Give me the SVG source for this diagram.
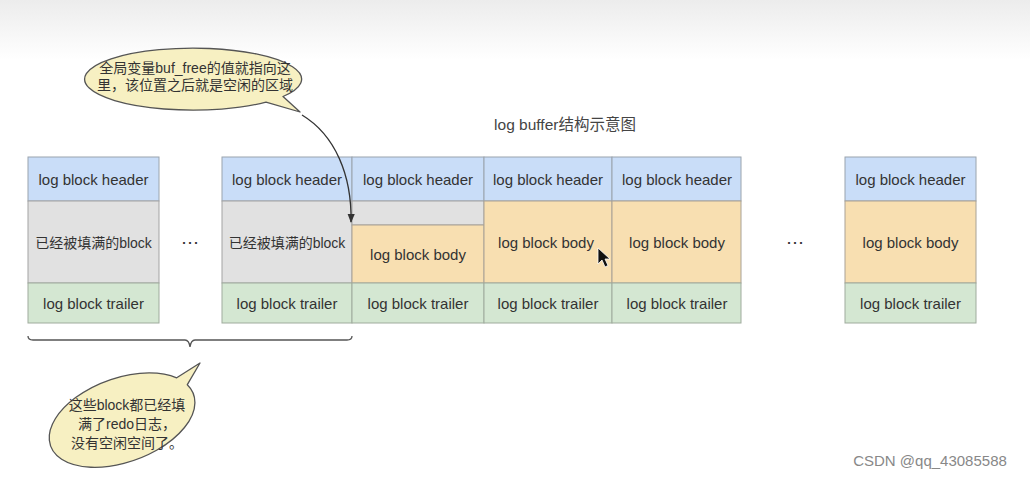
<svg xmlns="http://www.w3.org/2000/svg" width="1030" height="478" viewBox="0 0 1030 478">
  <defs>
    <linearGradient id="bg" x1="0" y1="0" x2="0" y2="1">
      <stop offset="0" stop-color="#ececec"/>
      <stop offset="1" stop-color="#ffffff"/>
    </linearGradient>
    <marker id="arr" viewBox="0 0 10 10" refX="9" refY="5" markerWidth="7" markerHeight="7" orient="auto">
      <path d="M0,1 L10,5 L0,9 z" fill="#333"/>
    </marker>
    <style>
      .hd { fill: #c9ddf8; stroke: #9aa4ae; stroke-width: 1; }
      .gy { fill: #e1e1e1; stroke: #a3a3a3; stroke-width: 1; }
      .bd { fill: #f8dfb1; stroke: #a9a295; stroke-width: 1; }
      .tr { fill: #d4e7d2; stroke: #9fab9d; stroke-width: 1; }
      .t { font-family: "Liberation Sans", "Noto Sans CJK SC", sans-serif; font-size: 15px; fill: #333; text-anchor: middle; }
      .g { font-family: "Liberation Sans", "Noto Sans CJK SC", sans-serif; font-size: 14px; fill: #333; text-anchor: middle; }
      .c { font-family: "Liberation Sans", "Noto Sans CJK SC", sans-serif; font-size: 14px; fill: #333; text-anchor: middle; }
      .bubble { fill: #f7f0c2; stroke: #555; stroke-width: 1.3; stroke-linejoin: round; }
      .dots { font-family: "Liberation Sans", sans-serif; font-size: 18px; fill: #333; text-anchor: middle; }
    </style>
  </defs>
  <rect x="0" y="0" width="1030" height="60" fill="url(#bg)"/>
  <rect x="0" y="60" width="1030" height="418" fill="#ffffff"/>

  <text x="565" y="130" class="t" style="fill:#444;font-size:15.5px">log buffer结构示意图</text>

  <g id="block1">
    <rect x="28" y="157" width="131" height="44" class="hd"/>
    <rect x="28" y="201" width="131" height="82" class="gy"/>
    <rect x="28" y="283" width="131" height="40" class="tr"/>
    <text x="93.5" y="184.5" class="t">log block header</text>
    <text x="93.5" y="247.5" class="g">已经被填满的block</text>
    <text x="93.5" y="308.5" class="t">log block trailer</text>
  </g>

  <text x="190" y="248" class="dots">⋯</text>

  <g id="block2">
    <rect x="222" y="157" width="130" height="44" class="hd"/>
    <rect x="222" y="201" width="130" height="82" class="gy"/>
    <rect x="222" y="283" width="130" height="40" class="tr"/>
    <text x="287" y="184.5" class="t">log block header</text>
    <text x="287" y="247.5" class="g">已经被填满的block</text>
    <text x="287" y="308.5" class="t">log block trailer</text>
  </g>

  <g id="block3">
    <rect x="352" y="157" width="132" height="44" class="hd"/>
    <rect x="352" y="201" width="132" height="24" class="gy"/>
    <rect x="352" y="225" width="132" height="58" class="bd"/>
    <rect x="352" y="283" width="132" height="40" class="tr"/>
    <text x="418" y="184.5" class="t">log block header</text>
    <text x="418" y="259.5" class="t">log block body</text>
    <text x="418" y="308.5" class="t">log block trailer</text>
  </g>

  <g id="block4">
    <rect x="484" y="157" width="128" height="44" class="hd"/>
    <rect x="484" y="201" width="128" height="82" class="bd"/>
    <rect x="484" y="283" width="128" height="40" class="tr"/>
    <text x="548" y="184.5" class="t">log block header</text>
    <text x="546" y="247.5" class="t">log block body</text>
    <text x="548" y="308.5" class="t">log block trailer</text>
  </g>

  <g id="block5">
    <rect x="612" y="157" width="129" height="44" class="hd"/>
    <rect x="612" y="201" width="129" height="82" class="bd"/>
    <rect x="612" y="283" width="129" height="40" class="tr"/>
    <text x="677" y="184.5" class="t">log block header</text>
    <text x="677" y="247.5" class="t">log block body</text>
    <text x="677" y="308.5" class="t">log block trailer</text>
  </g>

  <text x="795" y="248" class="dots">⋯</text>

  <g id="block6">
    <rect x="845" y="157" width="131" height="44" class="hd"/>
    <rect x="845" y="201" width="131" height="82" class="bd"/>
    <rect x="845" y="283" width="131" height="40" class="tr"/>
    <text x="910.5" y="184.5" class="t">log block header</text>
    <text x="910.5" y="247.5" class="t">log block body</text>
    <text x="910.5" y="308.5" class="t">log block trailer</text>
  </g>

  <g id="callout-buf-free">
    <path class="bubble" d="M283,96.5 A108.5,31 0 1 0 266,102.1 L300,112 Z"/>
    <text x="195" y="73" class="c">全局变量buf_free的值就指向这</text>
    <text x="195" y="90" class="c">里，该位置之后就是空闲的区域</text>
  </g>

  <g id="connectors">
    <path d="M302,115 C335,135 352,175 351,222" fill="none" stroke="#333" stroke-width="1.3" marker-end="url(#arr)"/>
    <path d="M28,336 Q28,340 33,340 L185,340 Q189,340 190,347 Q191,340 195,340 L347,340 Q352,340 352,336" fill="none" stroke="#555" stroke-width="1.3"/>
  </g>

  <g id="callout-full">
    <path class="bubble" d="M187.3,384.7 A76,42 -20 1 1 176.7,377.8 L200,363 Z"/>
    <text x="127" y="410" class="c">这些block都已经填</text>
    <text x="127" y="429" class="c">满了redo日志，</text>
    <text x="127" y="448" class="c">没有空闲空间了。</text>
  </g>

  <path d="M598,248 L598,264 L602,260 L605,267 L608,265.5 L605,259 L610,259 Z" fill="#111" stroke="#fff" stroke-width="0.8"/>

  <text x="930" y="466" style="font-family:'Liberation Sans',sans-serif;font-size:15px;fill:#888;text-anchor:middle">CSDN @qq_43085588</text>
</svg>
